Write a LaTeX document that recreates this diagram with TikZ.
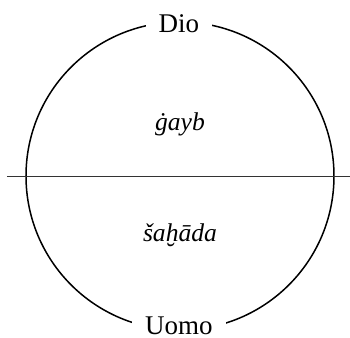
\documentclass[tikz,border=0pt]{standalone}
\usepackage{fontspec}
\setmainfont{Liberation Serif}
\newfontfamily\tondo{Liberation Serif}
\begin{document}
\begin{tikzpicture}[x=0.5pt,y=0.5pt,
  polo/.style={fill=white, inner xsep=6.5pt, inner ysep=2pt, font=\tondo\fontsize{13.5}{16}\selectfont},
  regno/.style={font=\tondo\fontsize{12.8}{15}\selectfont\itshape}]
  \useasboundingbox (0,0) rectangle (350,338);
  \coordinate (centro) at (180,162);
  \draw[line width=0.75pt] (centro) circle[radius=154];
  \coordinate (sx) at (7,162);
  \coordinate (dx) at (350,162);
  \draw[line width=0.4pt, black!80] (sx) -- (dx);
  \node[polo] (dio) at (179,314) {Dio};
  \node[polo] (uomo) at (179,12) {Uomo};
  \node[regno] (gayb) at (180,214) {ġayb};
  \node[regno] (shahada) at (180,103) {šaḫāda};
\end{tikzpicture}
\end{document}
